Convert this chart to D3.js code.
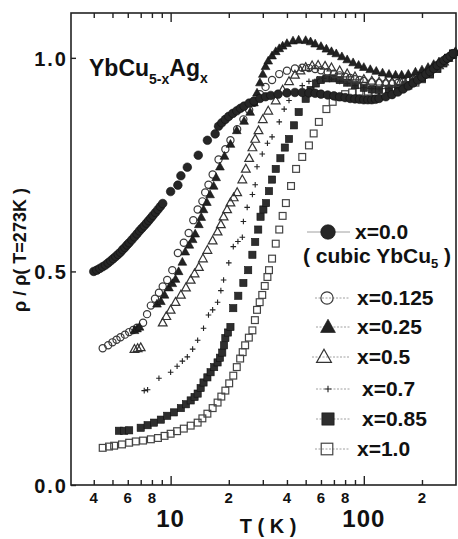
<!DOCTYPE html>
<html><head><meta charset="utf-8">
<script src="https://cdn.jsdelivr.net/npm/d3@7"></script>
<style>
html,body{margin:0;padding:0;background:#fff;}
svg{display:block;font-family:"Liberation Sans",Arial,Helvetica,sans-serif;font-weight:bold;}
</style></head>
<body>
<svg id="chart" width="458" height="539"></svg>
<script>
// ---- data (T in K, rho/rho(273K)) ----
const s00 = [[4.0,.500],[4.15,.503],[4.3,.507],[4.45,.511],[4.6,.515],[4.75,.520],[4.9,.525],[5.05,.530],[5.2,.535],[5.35,.540],[5.5,.545],[5.65,.551],[5.8,.556],[5.95,.562],[6.1,.567],[6.3,.574],[6.5,.581],[6.7,.588],[6.9,.595],[7.1,.601],[7.3,.607],[7.5,.613],[7.7,.619],[7.9,.625],[8.1,.631],[8.35,.638],[8.6,.645],[8.85,.652],[9.1,.659],
[10.0,.687],[10.9,.702],[11.3,.724],[12.2,.744],[13.9,.772],[15.5,.807],[17.0,.822],
[17.7,.840],[18.4,.848],[19.2,.856],[20.0,.863],[21,.870],[22,.876],[23,.882],[24,.887],[25.5,.894],[27,.899],[29,.905],[31,.909],[33,.912],[36,.915],[40,.918],[44,.919],[48,.919],[52,.918],[56,.917],[60,.915],[65,.913],[70,.911],[75,.909],[80,.907],[85,.905],[90,.904],[95,.903],[100,.902],[105,.902],[110,.902],[115,.903],[120,.905],[130,.909],[140,.914],[150,.920],[160,.927],[170,.934],[180,.941],[190,.948],[200,.955],[210,.962],[220,.968],[230,.975],[240,.982],[250,.988],[260,.994],[270,.999],[280,1.004],[290,1.010]];
const s0125 = [[4.45,.320],[4.75,.327],[5.0,.334],[5.25,.340],[5.5,.346],[5.8,.352],[6.1,.358],[6.4,.363],[6.7,.368],[7.2,.380],[7.55,.400],[7.9,.420],[8.3,.436],[8.7,.450],[9.1,.465],[9.6,.480],[10.2,.503],[10.9,.543],[11.7,.567],[12.4,.590],[13.1,.620],[13.8,.645],[14.6,.664],[15.1,.685],[15.7,.703],[16.5,.727],[17.7,.762],[19.2,.786],[20.4,.807],[22.1,.833],[23.8,.856],[25.5,.878],[27,.895],[29,.915],[31,.932],[33.5,.948],[36.5,.962],[40,.970],[44,.975],[48,.977],[52,.976],[56,.974],[60,.971],[65,.967],[70,.963],[75,.959],[80,.956],[85,.953],[90,.950],[95,.948],[100,.946],[110,.943],[120,.941],[130,.940],[140,.940],[150,.941],[160,.943],[170,.946],[180,.950],[190,.954],[200,.958],[210,.963],[220,.968],[230,.974],[240,.980],[250,.986],[260,.992],[270,.998],[280,1.004],[290,1.010]];
const s025 = [[6.5,.362],[6.7,.366],[6.9,.370],[8.5,.424],[8.9,.430],[9.3,.445],[9.8,.462],[10.2,.472],[10.6,.482],[11.0,.500],[11.5,.522],[11.9,.546],[12.5,.562],[13.0,.575],[13.4,.588],[14.0,.610],[14.4,.627],[14.8,.645],[15.4,.662],[16.0,.680],[16.7,.700],[17.2,.720],[18.0,.745],[19.0,.770],[20.4,.798],[22,.830],[24,.852],[25.8,.873],[27,.895],[28,.918],[29,.942],[30,.962],[31,.980],[32,.993],[33.5,1.005],[35,1.015],[36.5,1.022],[38,1.028],[40,1.034],[43,1.040],[46,1.042],[50,1.041],[53,1.038],[56,1.033],[60,1.027],[64,1.021],[68,1.015],[72,1.010],[77,1.003],[82,.996],[88,.989],[94,.983],[100,.978],[108,.973],[116,.969],[125,.965],[135,.962],[146,.960],[157,.960],[170,.962],[185,.967],[200,.972],[215,.978],[230,.985],[245,.991],[260,.996],[273,1.000],[285,1.007],[298,1.015]];
const s05 = [[6.5,.318],[6.75,.320],[7.0,.322],[9.1,.380],[9.5,.395],[10.0,.410],[10.6,.428],[11.3,.445],[12.0,.462],[12.7,.480],[13.3,.495],[14.0,.510],[14.7,.530],[15.5,.550],[16.5,.572],[17.5,.593],[18.2,.610],[18.8,.628],[19.6,.645],[20.4,.661],[21.2,.673],[22.1,.685],[23.5,.715],[24.5,.740],[25.5,.765],[26.5,.790],[27.4,.810],[28.5,.830],[30,.856],[32,.876],[35,.900],[38,.925],[41,.945],[44,.960],[47,.970],[50,.978],[54,.982],[58,.983],[63,.981],[68,.977],[75,.970],[82,.963],[90,.956],[100,.950],[110,.946],[120,.944],[130,.943],[140,.943],[155,.945],[170,.949],[185,.954],[200,.960],[215,.966],[230,.974],[245,.982],[260,.991],[273,1.000],[285,1.006],[298,1.013]];
const s07 = [[7.3,.221],[7.6,.223],[8.7,.250],[10.0,.264],[10.8,.278],[11.5,.290],[12.2,.300],[13.0,.318],[13.8,.339],[14.8,.367],[15.7,.398],[16.5,.410],[17.5,.428],[18.2,.455],[18.8,.480],[20.0,.520],[21.1,.558],[22.3,.570],[23.5,.580],[23.8,.617],[24.9,.650],[26.5,.680],[27.4,.703],[28,.745],[29.8,.775],[31.7,.800],[33.5,.815],[36.5,.850],[38.7,.880],[41,.900],[44,.920],[48,.935],[52,.945],[57,.950],[62,.952],[68,.950],[75,.945],[82,.940],[90,.935],[100,.930],[110,.928],[120,.927],[135,.928],[150,.932],[165,.937],[180,.943],[200,.952],[220,.962],[240,.975],[255,.985],[273,1.000],[290,1.010]];
const s085 = [[5.4,.127],[5.75,.127],[6.1,.128],[7.0,.134],[7.6,.140],[8.2,.146],[8.9,.153],[9.6,.162],[10.4,.170],[11.3,.180],[12.0,.189],[12.7,.198],[13.3,.206],[13.8,.214],[14.3,.227],[14.8,.240],[15.5,.252],[16.1,.264],[16.8,.276],[17.5,.287],[18.0,.298],[18.5,.310],[18.9,.327],[19.2,.344],[19.8,.357],[20.4,.370],[21.1,.414],[22.4,.443],[23.8,.473],[25.2,.503],[26.5,.539],[27.4,.569],[28.4,.598],[29.2,.628],[30.2,.645],[31.2,.660],[32.3,.688],[33.5,.715],[35,.740],[37,.765],[39,.790],[41,.810],[43.5,.842],[46,.873],[50,.904],[53,.925],[56.5,.940],[60,.948],[64,.952],[69,.952],[75,.948],[82,.942],[90,.936],[100,.930],[110,.926],[120,.925],[135,.926],[150,.930],[165,.936],[180,.943],[200,.952],[220,.962],[240,.975],[258,.988],[273,1.000],[290,1.010]];
const s10 = [[4.45,.087],[4.8,.090],[5.1,.092],[5.6,.095],[6.1,.099],[6.6,.102],[7.2,.104],[7.9,.107],[8.6,.110],[9.3,.115],[10.0,.120],[10.8,.126],[11.7,.132],[12.7,.139],[13.8,.146],[14.6,.156],[15.5,.167],[16.5,.180],[17.5,.193],[18.3,.207],[19.2,.221],[20.1,.238],[21.1,.256],[22.0,.276],[22.9,.296],[23.6,.311],[24.3,.327],[25.4,.345],[26.5,.362],[27.3,.386],[28.0,.410],[28.9,.428],[29.8,.445],[30.7,.466],[31.7,.487],[32.3,.503],[33.5,.530],[35,.565],[36.5,.598],[38,.630],[39.5,.660],[42,.700],[44.6,.740],[48,.768],[52,.795],[55,.823],[58.5,.850],[64,.880],[69,.897],[74,.908],[80,.915],[87,.919],[95,.921],[105,.921],[115,.920],[125,.920],[140,.923],[155,.928],[170,.935],[185,.942],[200,.950],[220,.961],[240,.974],[258,.987],[273,1.000],[290,1.010]];

const seriesNames = ["x=0.0","x=0.125","x=0.25","x=0.5","x=0.7","x=0.85","x=1.0"];
const seriesData  = [s00, s0125, s025, s05, s07, s085, s10];
const seriesMarks = ["circleFilled","circleOpen","triFilled","triOpen","plus","squareFilled","squareOpen"];
const yTicks = [0, 0.5, 1.0];
const xMinorLabels = [[4,"4"],[6,"6"],[8,"8"],[20,"2"],[40,"4"],[60,"6"],[80,"8"],[200,"2"]];
const xMajorLabels = [[10,"10"],[100,"100"]];
const xMinorTicks = [4,5,6,7,8,9,20,30,40,50,60,70,80,90,200];
const xMajorTicks = [10,100];

// ---- scales ----
const L=71, R=456, T=13, B=485;
const x = d3.scaleLog().domain([3.05, 300]).range([L, R]);
const y = d3.scaleLinear().domain([0, 1.105]).range([B, T]);

const svg = d3.select("#chart");
svg.append("rect").attr("width",458).attr("height",539).attr("fill","#fff");

function marker(g, type, cx, cy, s) {
  s = s || 1;
  if (type === "circleFilled") {
    g.append("circle").attr("cx",cx).attr("cy",cy).attr("r",4.3*s).attr("fill","#262626").attr("stroke","#111").attr("stroke-width",0.6);
  } else if (type === "circleOpen") {
    g.append("circle").attr("cx",cx).attr("cy",cy).attr("r",3.6*s).attr("fill","none").attr("stroke","#3a3a3a").attr("stroke-width",1.2);
  } else if (type === "triFilled" || type === "triOpen") {
    const h = 4.6*s;
    const p = `M${cx},${cy-h}L${cx+h*0.95},${cy+h*0.7}L${cx-h*0.95},${cy+h*0.7}Z`;
    const e = g.append("path").attr("d",p);
    if (type === "triFilled") e.attr("fill","#222").attr("stroke","#111").attr("stroke-width",0.6);
    else e.attr("fill","none").attr("stroke","#333").attr("stroke-width",1.2);
  } else if (type === "plus") {
    const h = 2.8*s;
    g.append("path").attr("d",`M${cx-h},${cy}H${cx+h}M${cx},${cy-h}V${cy+h}`).attr("stroke","#222").attr("stroke-width",1.1).attr("fill","none");
  } else if (type === "squareFilled") {
    const h = 3.6*s;
    g.append("rect").attr("x",cx-h).attr("y",cy-h).attr("width",2*h).attr("height",2*h).attr("fill","#2e2e2e").attr("stroke","#111").attr("stroke-width",0.6);
  } else if (type === "squareOpen") {
    const h = 3.4*s;
    g.append("rect").attr("x",cx-h).attr("y",cy-h).attr("width",2*h).attr("height",2*h).attr("fill","none").attr("stroke","#444").attr("stroke-width",1.2);
  }
}

// ---- data marks ----
const plot = svg.append("g").attr("class","marks");
const order = [6,5,4,3,1,2,0];
order.forEach(i => {
  const g = plot.append("g").attr("class","series-"+i);
  seriesData[i].forEach(d => marker(g, seriesMarks[i], x(d[0]), y(d[1])));
});

// ---- frame & axes ----
svg.append("rect").attr("x",L).attr("y",T).attr("width",R-L).attr("height",B-T)
  .attr("fill","none").attr("stroke","#222").attr("stroke-width",1.6);

const axB = svg.append("g").attr("transform",`translate(0,${B})`);
axB.append("g").call(d3.axisBottom(x).tickValues(xMinorTicks).tickSize(-5).tickFormat("")).call(g=>g.select(".domain").remove());
axB.append("g").call(d3.axisBottom(x).tickValues(xMajorTicks).tickSize(-9).tickFormat("")).call(g=>g.select(".domain").remove());
const axT = svg.append("g").attr("transform",`translate(0,${T})`);
axT.append("g").call(d3.axisTop(x).tickValues(xMinorTicks).tickSize(-5).tickFormat("")).call(g=>g.select(".domain").remove());
axT.append("g").call(d3.axisTop(x).tickValues(xMajorTicks).tickSize(-9).tickFormat("")).call(g=>g.select(".domain").remove());
svg.selectAll(".tick line").attr("stroke","#222").attr("stroke-width",1.4);

const axL = svg.append("g").attr("transform",`translate(${L},0)`)
  .call(d3.axisLeft(y).tickValues(yTicks).tickSize(-5).tickPadding(3).tickFormat(d3.format(".1f")));
axL.select(".domain").remove();
axL.selectAll(".tick line").attr("stroke","#222").attr("stroke-width",1.4);
axL.selectAll(".tick text").attr("font-size",20).attr("font-weight","bold").attr("fill","#111")
  .attr("font-family","Liberation Sans, Arial, sans-serif").attr("letter-spacing",2).attr("dy","0.36em");

svg.append("g").selectAll("text").data(xMinorLabels).join("text")
  .attr("x",d=>x(d[0])).attr("y",503).attr("text-anchor","middle")
  .attr("font-size",15).attr("fill","#111").text(d=>d[1]);
svg.append("g").selectAll("text").data(xMajorLabels).join("text")
  .attr("x",d=>x(d[0])).attr("y",527).attr("text-anchor","middle")
  .attr("font-size",24).attr("letter-spacing",1).attr("fill","#111").text(d=>d[1]);
svg.append("text").attr("x",268).attr("y",533).attr("text-anchor","middle")
  .attr("font-size",20).attr("fill","#111").attr("xml:space","preserve").text("T ( K )");

svg.append("text").attr("transform","translate(26,250) rotate(-90)").attr("text-anchor","middle")
  .attr("font-size",18).attr("fill","#111").text("ρ / ρ( T=273K )");

// ---- title ----
const title = svg.append("text").attr("x",89).attr("y",76).attr("font-size",23).attr("fill","#111");
title.append("tspan").text("YbCu");
title.append("tspan").attr("font-size",14).attr("dy",8).text("5-x");
title.append("tspan").attr("dy",-8).text("Ag");
title.append("tspan").attr("font-size",14).attr("dy",7).text("x");

// ---- legend ----
const legRows = [
  {i:0, y:231, mx:328, tx:355},
  {i:1, y:297, mx:327, tx:357},
  {i:2, y:326, mx:328, tx:357},
  {i:3, y:356, mx:324, tx:357},
  {i:4, y:388, mx:328, tx:362},
  {i:5, y:418, mx:328, tx:362},
  {i:6, y:448, mx:327, tx:357}
];
const leg = svg.append("g");
legRows.forEach(r => {
  const x0 = r.i === 0 ? 307 : r.mx - 12;
  leg.append("line").attr("x1",x0).attr("x2",350).attr("y1",r.y+1).attr("y2",r.y+1)
    .attr("stroke","#888").attr("stroke-width",0.8).attr("stroke-dasharray", r.i===0 ? null : "2,1.5");
  marker(leg, seriesMarks[r.i], r.mx, r.y+1, r.i===0 ? 1.7 : (r.i===4 ? 1.2 : 1.7));
  leg.append("text").attr("x",r.tx).attr("y",r.y+8).attr("font-size",21).attr("fill","#111").text(seriesNames[r.i]);
});
const cub = leg.append("text").attr("x",303).attr("y",263).attr("font-size",21).attr("fill","#111").attr("xml:space","preserve");
cub.append("tspan").text("( cubic YbCu");
cub.append("tspan").attr("font-size",13).attr("dy",5).text("5");
cub.append("tspan").attr("dy",-5).text(" )");
</script>
</body></html>
